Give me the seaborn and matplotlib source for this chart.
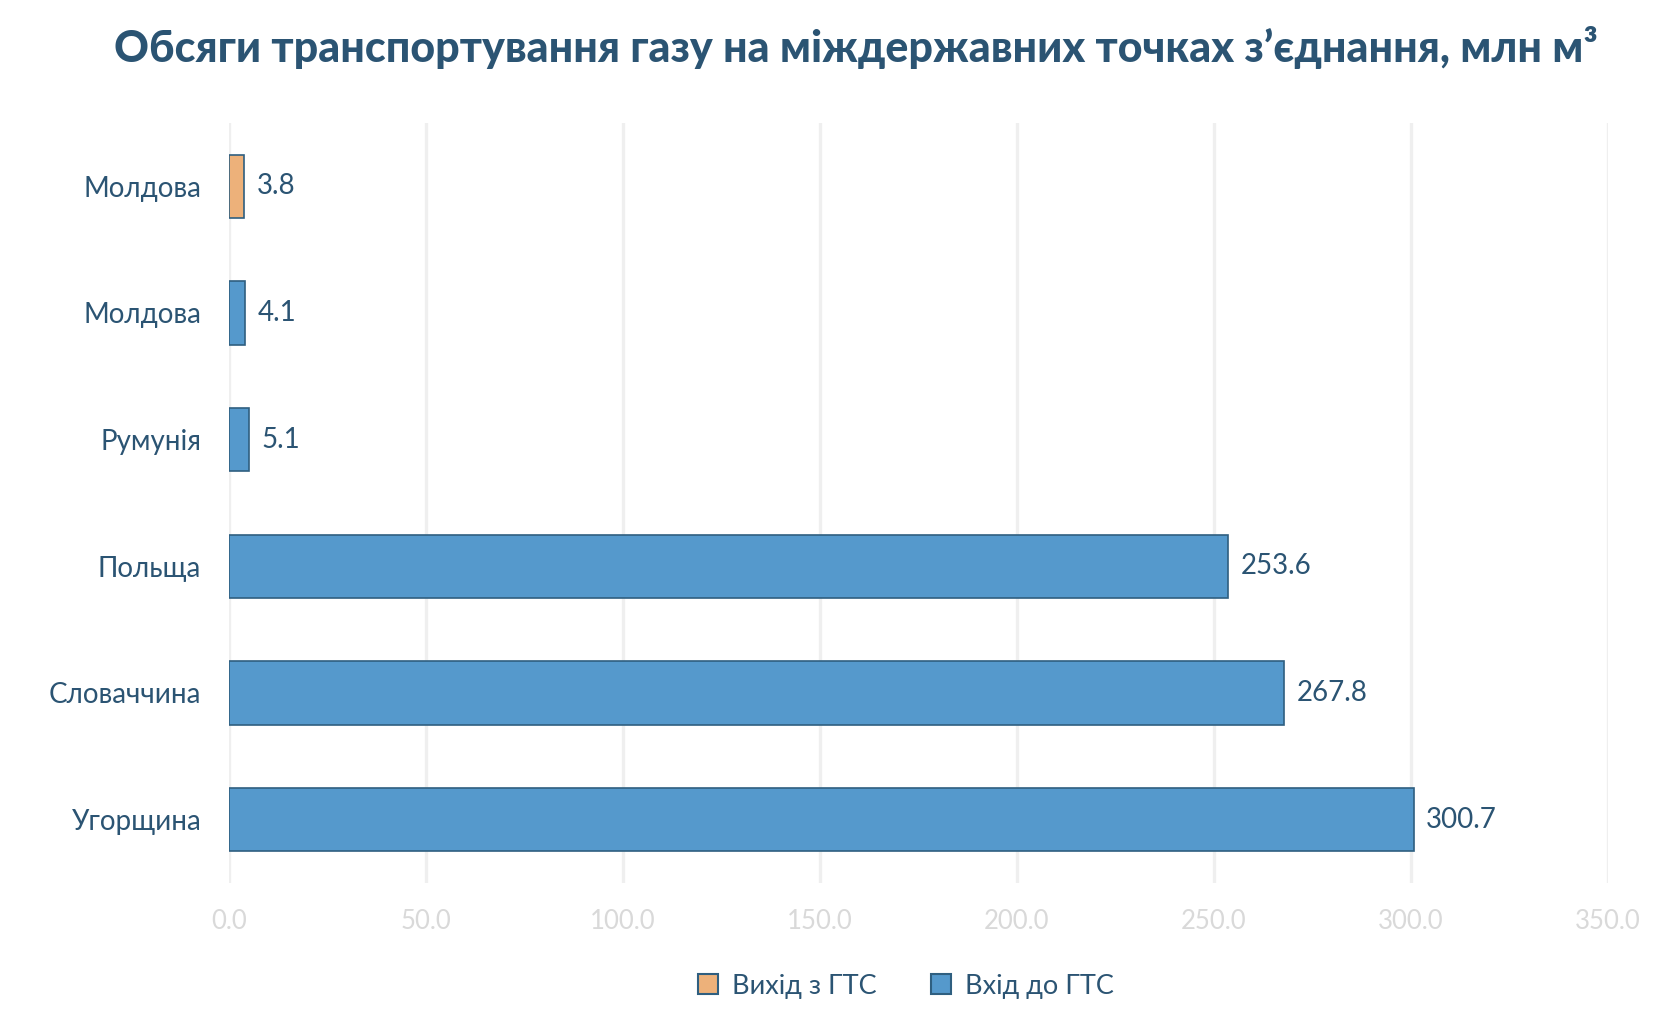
import pandas as pd
import seaborn as sns
import matplotlib.pyplot as plt
from matplotlib.patches import Patch

# data, top to bottom
countries = ["Молдова", "Молдова", "Румунія", "Польща", "Словаччина", "Угорщина"]
volumes = [3.8, 4.1, 5.1, 253.6, 267.8, 300.7]
flows = ["Вихід з ГТС", "Вхід до ГТС", "Вхід до ГТС", "Вхід до ГТС", "Вхід до ГТС", "Вхід до ГТС"]
x_ticks = [0, 50, 100, 150, 200, 250, 300, 350]

title = "Обсяги транспортування газу на міждержавних точках з’єднання, млн м³"

text_color = "#2b5473"
edge_color = "#2f5f80"
palette = {"Вихід з ГТС": "#edb17a", "Вхід до ГТС": "#5599cc"}

sns.set_theme(style="white")
plt.rcParams["font.family"] = ["Lato", "DejaVu Sans"]

df = pd.DataFrame({
    "key": [f"{i}" for i in range(len(countries))],
    "country": countries,
    "value": volumes,
    "flow": flows,
})

fig = plt.figure(figsize=(16.68, 10.36), dpi=100)
ax = fig.add_axes([0.1373, 0.1477, 0.8267, 0.7336])

sns.barplot(data=df, x="value", y="key", hue="flow", dodge=False, palette=palette,
            saturation=1, width=0.5, edgecolor=edge_color, linewidth=1.2,
            legend=False, ax=ax)

for container in ax.containers:
    labels = [f"{v:.1f}" if v == v else "" for v in container.datavalues]
    ax.bar_label(container, labels=labels, padding=9, fontsize=20, color=text_color)

ax.set_xlim(0, 350)
ax.set_ylim(5.5, -0.5)
ax.set_xticks(x_ticks)
ax.set_xticklabels([f"{t:.1f}" for t in x_ticks], fontsize=18.5, color="#d9d9d9")
ax.set_yticks(range(len(countries)))
ax.set_yticklabels(countries, fontsize=20, color=text_color)
ax.tick_params(axis="both", length=0)
ax.tick_params(axis="y", pad=20)
ax.tick_params(axis="x", pad=19)
ax.set_xlabel("")
ax.set_ylabel("")

ax.grid(axis="x", color="#efefef", linewidth=2.4)
ax.grid(axis="y", visible=False)
ax.set_axisbelow(True)
sns.despine(ax=ax, left=True, bottom=True)

fig.text(0.513, 0.954, title, ha="center", va="center", fontsize=31,
         fontweight="black", color=text_color)

handles = [Patch(facecolor=palette[k], edgecolor=edge_color, linewidth=1.5, label=k)
           for k in ["Вихід з ГТС", "Вхід до ГТС"]]
fig.legend(handles=handles, loc="center", bbox_to_anchor=(0.543, 0.048), ncol=2,
           frameon=False, fontsize=19.5, labelcolor=text_color, handlelength=0.75,
           handleheight=0.75, handletextpad=0.5, columnspacing=2.0)

fig.savefig("out.png", dpi=100)
